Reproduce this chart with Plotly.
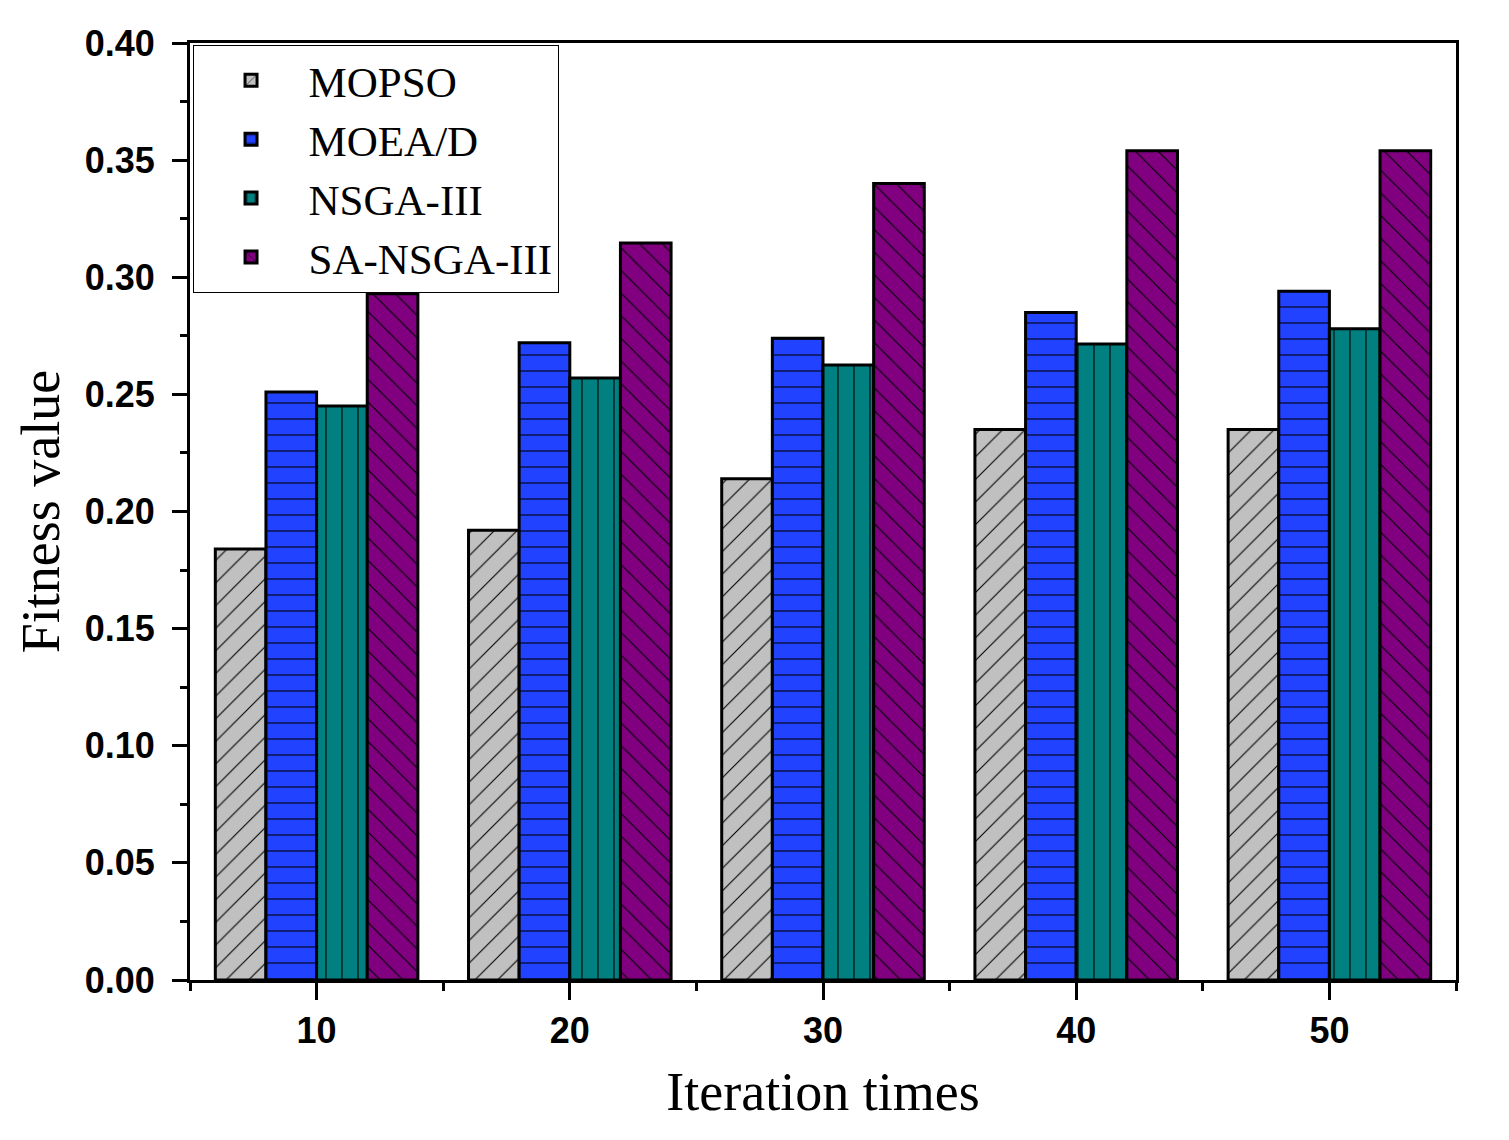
import plotly.graph_objects as go

iterations = [10, 20, 30, 40, 50]
series_names = ["MOPSO", "MOEA/D", "NSGA-III", "SA-NSGA-III"]
mopso = [0.184, 0.192, 0.214, 0.235, 0.235]
moead = [0.251, 0.272, 0.274, 0.285, 0.294]
nsga3 = [0.245, 0.257, 0.2625, 0.2715, 0.278]
sansga3 = [0.293, 0.3146, 0.340, 0.354, 0.354]
y_ticks = [0.00, 0.05, 0.10, 0.15, 0.20, 0.25, 0.30, 0.35, 0.40]

series_values = [mopso, moead, nsga3, sansga3]
colors = ["#C0C0C0", "#2142FF", "#008080", "#800080"]
patterns = [("/", 16, 0.068), ("-", 16, 0.068), ("|", 16, 0.068), ("\\", 16, 0.068)]

fig = go.Figure()
for name, vals, col, (shp, sz, sol) in zip(series_names, series_values, colors, patterns):
    fig.add_trace(go.Bar(
        x=iterations, y=vals, name=name,
        marker=dict(color=col, line=dict(color="black", width=3),
                    pattern=dict(shape=shp, size=sz, solidity=sol, fgcolor="black", fgopacity=1)),
    ))

axis_font = dict(family="Liberation Sans", size=36, color="black", weight="bold")
title_font = dict(family="Liberation Serif", size=54, color="black")

fig.update_layout(
    width=1501, height=1132,
    margin=dict(l=182, r=53, t=35, b=160),
    paper_bgcolor="white", plot_bgcolor="white",
    barmode="group", bargap=0.2, bargroupgap=0,
    showlegend=True,
    legend=dict(x=0.002, y=0.998, xanchor="left", yanchor="top",
                bgcolor="white", bordercolor="black", borderwidth=1,
                font=dict(family="Liberation Serif", size=43, color="black"),
                tracegroupgap=0, itemwidth=105),
    xaxis=dict(
        range=[5, 55], tickmode="array", tickvals=iterations, ticktext=[str(v) for v in iterations],
        ticks="outside", ticklen=17, tickwidth=3, tickcolor="black",
        showline=True, linewidth=3, linecolor="black", mirror=True,
        showgrid=False, zeroline=False, tickfont=axis_font,
        minor=dict(tickmode="array", tickvals=[5, 15, 25, 35, 45, 55], ticks="outside",
                   ticklen=8, tickwidth=3, tickcolor="black", showgrid=False),
        title=dict(text="Iteration times", font=title_font, standoff=22),
    ),
    yaxis=dict(
        range=[0, 0.40], tickmode="array", tickvals=y_ticks, ticktext=[f"{v:.2f}" for v in y_ticks],
        ticks="outside", ticklen=15, tickwidth=3, tickcolor="black",
        showline=True, linewidth=3, linecolor="black", mirror=True,
        showgrid=False, zeroline=False, tickfont=axis_font, ticklabelstandoff=10,
        minor=dict(dtick=0.025, tick0=0, ticks="outside", ticklen=7, tickwidth=3,
                   tickcolor="black", showgrid=False),
        title=dict(text="Fitness value", font=title_font, standoff=8),
    ),
)

fig.write_html("out.html")
